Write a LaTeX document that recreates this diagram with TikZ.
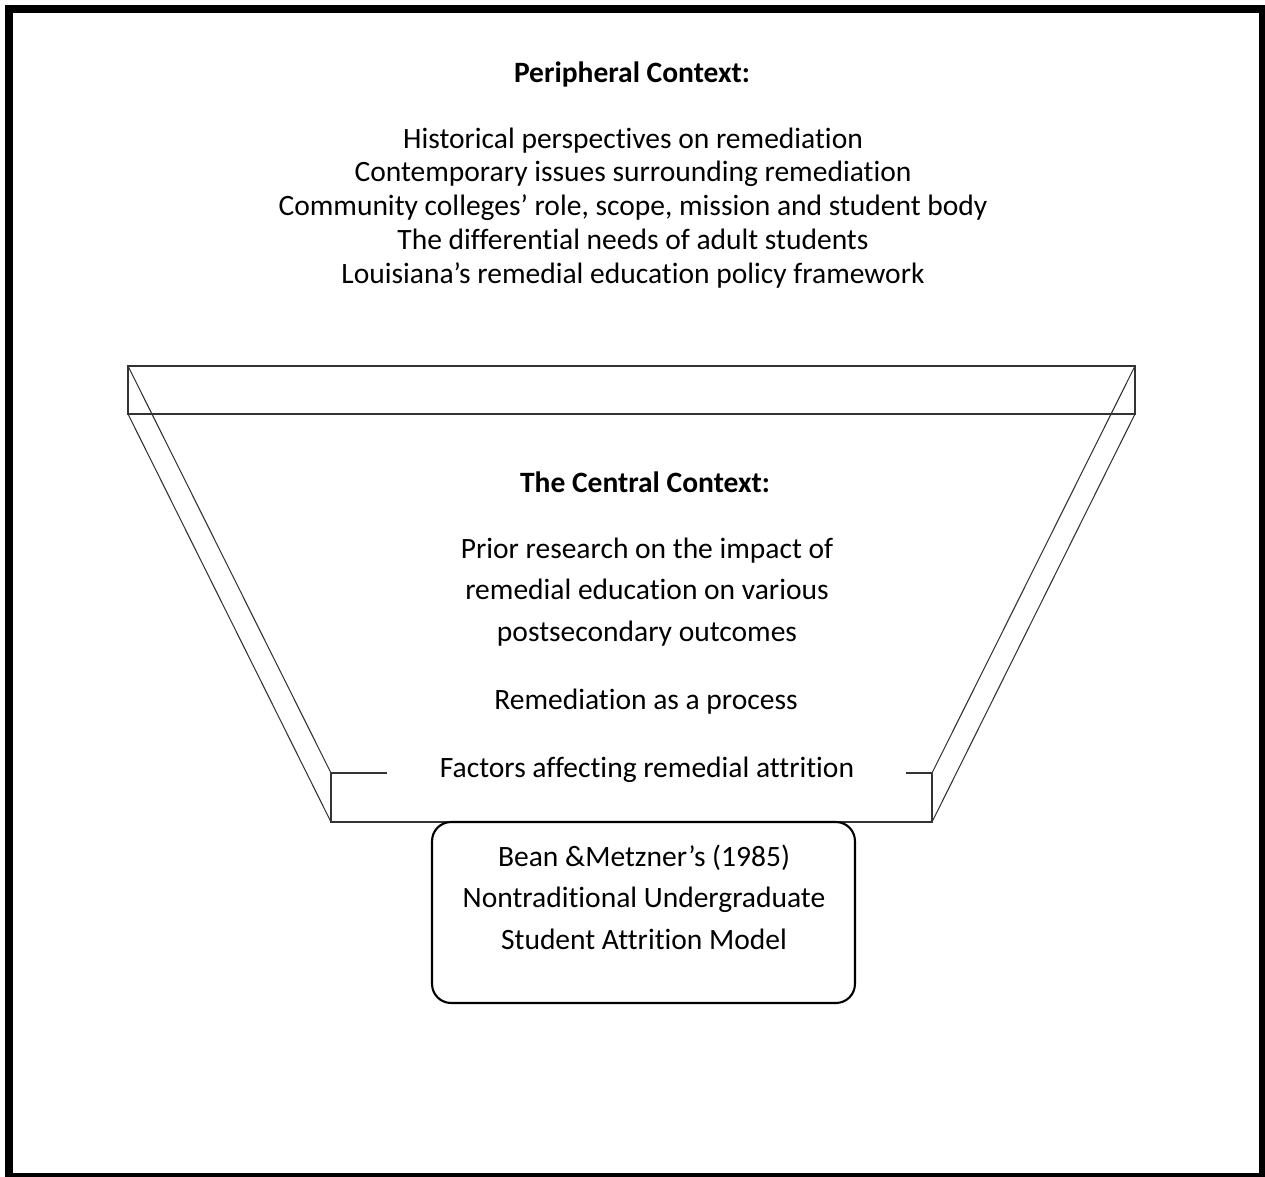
\documentclass[tikz,border=0pt]{standalone}
\usepackage{fontspec}
\setmainfont{Carlito}[Ligatures=NoCommon]
\usetikzlibrary{positioning}

\begin{document}
\begin{tikzpicture}[x=0.02cm,y=-0.02cm,line width=0.6pt,
        txt/.style={align=center,inner sep=0pt,anchor=base,
            font=\fontsize{16.8}{19.2}\selectfont},
        wide/.style={txt,font=\fontsize{16.8}{23.6}\selectfont},
        title/.style={txt,font=\fontsize{16.8}{19.2}\selectfont\bfseries},
        funnel/.style={draw=black!80,line width=0.6pt},
        model/.style={draw,rounded corners=0.38cm,line width=1.2pt,
            minimum width=8.46cm,minimum height=3.62cm,inner sep=0pt}]
		\useasboundingbox (0,0) rectangle (1265,1177);
		\draw [line width=0.16cm] (9,9) rectangle (1263,1177);
		% peripheral part
		\node [title] (peri) at (632, 82) {Peripheral Context:};
		\node [txt] (perilist) at (633, 283) {Historical perspectives on remediation\\
			Contemporary issues surrounding remediation\\
			Community colleges’ role, scope, mission and student body\\
			The differential needs of adult students\\
			Louisiana’s remedial education policy framework};
		% funnel
		\coordinate (tl) at (128, 366);
		\coordinate (tr) at (1135, 366);
		\coordinate (bl) at (128, 414);
		\coordinate (br) at (1135, 414);
		\coordinate (il) at (331, 773);
		\coordinate (ir) at (932, 773);
		\coordinate (ol) at (331, 822);
		\coordinate (or) at (932, 822);
		\draw [funnel] (tl) rectangle (br);
		\draw [funnel] (tl) -- (il);
		\draw [funnel] (bl) -- (ol);
		\draw [funnel] (tr) -- (ir);
		\draw [funnel] (br) -- (or);
		\draw [funnel] (il) -- (ol) -- (or) -- (ir);
		\draw [funnel] (il) -- +(56, 0);
		\draw [funnel] (ir) -- +(-26, 0);
		% central part
		\node [title] (central) at (645, 492) {The Central Context:};
		\node [wide] (prior) at (647, 641) {Prior research on the impact of\\
			remedial education on various\\
			postsecondary outcomes};
		\node [txt] (process) at (646, 709) {Remediation as a process};
		\node [txt] (factors) at (647, 777) {Factors affecting remedial attrition};
		% model box
		\node [model] (bean) at (643.5, 912.5) {};
		\node [wide] (beantext) at (644, 949) {Bean \&Metzner’s (1985)\\
			Nontraditional Undergraduate\\
			Student Attrition Model};
\end{tikzpicture}
\end{document}
